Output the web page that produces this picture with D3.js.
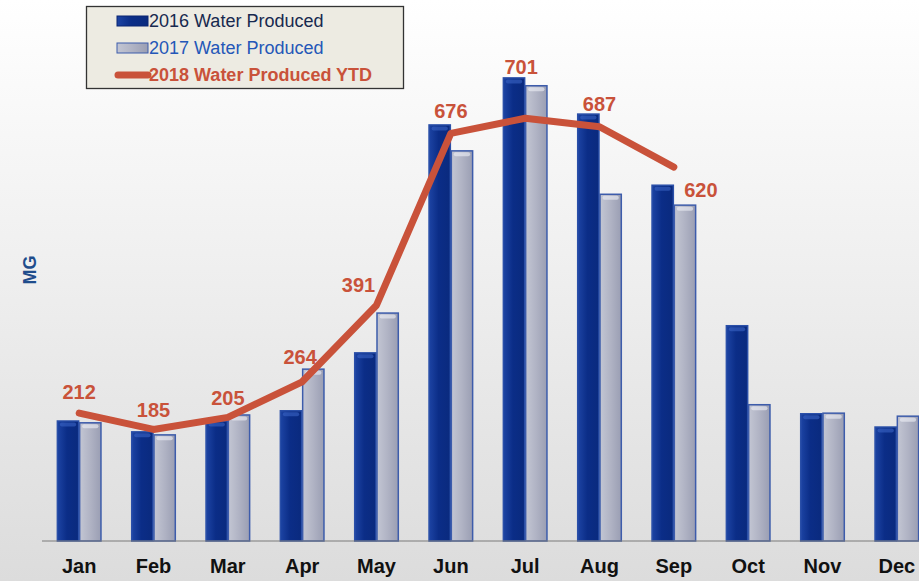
<!DOCTYPE html>
<html>
<head>
<meta charset="utf-8">
<script src="https://cdn.jsdelivr.net/npm/d3@7"></script>
<style>
  body { margin: 0; padding: 0; overflow: hidden; }
  svg { display: block; font-family: Arial, "Liberation Sans", sans-serif; }
</style>
</head>
<body>
<div id="chart"></div>
<script>
// data (MG)
var months = ["Jan", "Feb", "Mar", "Apr", "May", "Jun", "Jul", "Aug", "Sep", "Oct", "Nov", "Dec"];
var water2016 = [199, 181, 199, 216, 312, 690, 768, 708, 590, 357, 211, 189];
var water2017 = [196, 176, 209, 285, 378, 647, 755, 575, 557, 226, 212, 207];
var water2018 = [212, 185, 205, 264, 391, 676, 701, 687, 620];
var seriesNames = ["2016 Water Produced", "2017 Water Produced", "2018 Water Produced YTD"];

var svgWidth = 919;
var svgHeight = 581;
var baseY = 541;

var svg = d3.select("#chart")
  .append("svg")
  .attr("width", svgWidth)
  .attr("height", svgHeight);

var defs = svg.append("defs");

// background fade, white to light grey
var bg = defs.append("linearGradient").attr("id", "bg")
  .attr("x1", 0).attr("y1", 0).attr("x2", 0).attr("y2", 1);
bg.append("stop").attr("offset", "0%").attr("stop-color", "#ffffff");
bg.append("stop").attr("offset", "35%").attr("stop-color", "#f3f3f3");
bg.append("stop").attr("offset", "100%").attr("stop-color", "#dcdcdc");

var g16 = defs.append("linearGradient").attr("id", "g16")
  .attr("x1", 0).attr("y1", 0).attr("x2", 1).attr("y2", 0);
g16.append("stop").attr("offset", "0%").attr("stop-color", "#1d44a4");
g16.append("stop").attr("offset", "45%").attr("stop-color", "#0b2d87");
g16.append("stop").attr("offset", "100%").attr("stop-color", "#0a2a7e");

var g17 = defs.append("linearGradient").attr("id", "g17")
  .attr("x1", 0).attr("y1", 0).attr("x2", 1).attr("y2", 0);
g17.append("stop").attr("offset", "0%").attr("stop-color", "#c3c6d3");
g17.append("stop").attr("offset", "50%").attr("stop-color", "#b0b3c4");
g17.append("stop").attr("offset", "100%").attr("stop-color", "#9a9eb3");

svg.append("rect")
  .attr("width", svgWidth)
  .attr("height", svgHeight)
  .attr("fill", "url(#bg)");

// scales
var x0 = d3.scaleBand()
  .domain(months)
  .range([42, 934])
  .paddingInner(0.4)
  .paddingOuter(0.2);

var x1 = d3.scaleBand()
  .domain(["y2016", "y2017"])
  .range([0, x0.bandwidth()]);

var y = d3.scaleLinear()
  .domain([0, 900])
  .range([baseY, baseY - 900 * 0.603]);

var rows = months.map(function(m, i) {
  return { month: m, y2016: water2016[i], y2017: water2017[i] };
});

// bars
var groups = svg.selectAll("g.month")
  .data(rows)
  .enter()
  .append("g")
  .attr("class", "month")
  .attr("transform", d => `translate(${x0(d.month)}, 0)`);

var barStyle = {
  y2016: { fill: "url(#g16)", stroke: "#2a4fa8", cap: "#3a64c4" },
  y2017: { fill: "url(#g17)", stroke: "#3d5cab", cap: "#eef0f6" }
};

["y2016", "y2017"].forEach(function(key) {
  groups.append("rect")
    .attr("x", x1(key) + 0.5)
    .attr("y", d => y(d[key]))
    .attr("width", x1.bandwidth() - 1)
    .attr("height", d => baseY - y(d[key]))
    .attr("fill", barStyle[key].fill)
    .attr("stroke", barStyle[key].stroke)
    .attr("stroke-width", 1.5);

  // bevelled top
  groups.append("rect")
    .attr("x", x1(key) + 3)
    .attr("y", d => y(d[key]) + 1.5)
    .attr("width", x1.bandwidth() - 6)
    .attr("height", 4)
    .attr("rx", 2)
    .attr("fill", barStyle[key].cap)
    .attr("opacity", 0.6);
});

// baseline
svg.append("line")
  .attr("x1", 42).attr("x2", svgWidth)
  .attr("y1", baseY).attr("y2", baseY)
  .attr("stroke", "#7a7a7a")
  .attr("stroke-width", 1);

// month labels
var bottomAxis = d3.axisBottom(x0).tickSize(0).tickPadding(18);
var axisG = svg.append("g")
  .attr("transform", `translate(0, ${baseY})`)
  .call(bottomAxis);
axisG.select(".domain").remove();
axisG.selectAll("text")
  .attr("font-family", "Arial, 'Liberation Sans', sans-serif")
  .attr("font-size", 20)
  .attr("font-weight", "bold")
  .attr("fill", "#111");

// y title
svg.append("text")
  .attr("transform", "translate(36, 270) rotate(-90)")
  .attr("text-anchor", "middle")
  .attr("font-size", 18)
  .attr("font-weight", "bold")
  .attr("fill", "#1f4d8c")
  .text("MG");

// 2018 line
var lineColor = "#c9523a";
var line = d3.line()
  .x((d, i) => x0(months[i]) + x0.bandwidth() / 2)
  .y(d => y(d));

svg.append("path")
  .datum(water2018)
  .attr("d", line)
  .attr("fill", "none")
  .attr("stroke", lineColor)
  .attr("stroke-width", 7)
  .attr("stroke-linecap", "round")
  .attr("stroke-linejoin", "round");

// value labels, nudged like the original
var labelNudge = [[0, -21], [0, -19], [0, -19], [-2, -25], [-18, -20], [0, -22], [-4, -51], [0, -23], [27, 23]];
svg.selectAll("text.vlabel")
  .data(water2018)
  .enter()
  .append("text")
  .attr("class", "vlabel")
  .attr("x", (d, i) => x0(months[i]) + x0.bandwidth() / 2 + labelNudge[i][0])
  .attr("y", (d, i) => y(d) + labelNudge[i][1])
  .attr("dy", "0.35em")
  .attr("text-anchor", "middle")
  .attr("font-size", 20)
  .attr("font-weight", "bold")
  .attr("fill", lineColor)
  .text(d => d);

// legend
var legend = svg.append("g");
legend.append("rect")
  .attr("x", 86.5).attr("y", 6.5)
  .attr("width", 317).attr("height", 82)
  .attr("fill", "#edebe2")
  .attr("stroke", "#333")
  .attr("stroke-width", 1.3);

var legendRows = [
  { name: seriesNames[0], y: 21, color: "#17294f", weight: "normal" },
  { name: seriesNames[1], y: 48, color: "#2457b8", weight: "normal" },
  { name: seriesNames[2], y: 75, color: lineColor, weight: "bold" }
];

legend.append("rect")
  .attr("x", 117).attr("y", 16).attr("width", 31).attr("height", 10)
  .attr("fill", "url(#g16)").attr("stroke", "#0a2570");
legend.append("rect")
  .attr("x", 117).attr("y", 43).attr("width", 31).attr("height", 10)
  .attr("fill", "url(#g17)").attr("stroke", "#3d5cab");
legend.append("line")
  .attr("x1", 118).attr("x2", 148).attr("y1", 75).attr("y2", 75)
  .attr("stroke", lineColor).attr("stroke-width", 7).attr("stroke-linecap", "round");

legend.selectAll("text")
  .data(legendRows)
  .enter()
  .append("text")
  .attr("x", 149)
  .attr("y", d => d.y)
  .attr("dy", "0.35em")
  .attr("font-size", 18)
  .attr("font-weight", d => d.weight)
  .attr("fill", d => d.color)
  .text(d => d.name);
</script>
</body>
</html>
